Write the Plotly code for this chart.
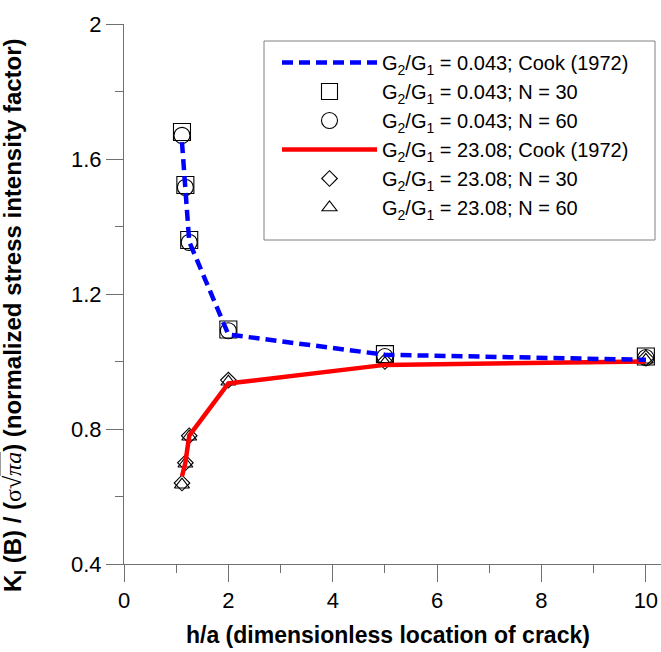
import plotly.graph_objects as go

# h/a locations
ha = [1.111, 1.176, 1.25, 2, 5, 10]

# Cook (1972) analytical curves
cook_soft = [1.65, 1.515, 1.355, 1.08, 1.02, 1.005]   # G2/G1 = 0.043
cook_stiff = [0.66, 0.70, 0.78, 0.935, 0.99, 1.0]     # G2/G1 = 23.08

# numerical results
soft_n30 = [1.68, 1.523, 1.36, 1.095, 1.022, 1.015]
soft_n60 = [1.67, 1.516, 1.353, 1.091, 1.015, 1.012]
stiff_n30 = [0.64, 0.70, 0.78, 0.945, 1.0, 1.01]
stiff_n60 = [0.635, 0.697, 0.777, 0.94, 0.995, 1.005]

names = [
    "G<sub>2</sub>/G<sub>1</sub> = 0.043; Cook (1972)",
    "G<sub>2</sub>/G<sub>1</sub> = 0.043; N = 30",
    "G<sub>2</sub>/G<sub>1</sub> = 0.043; N = 60",
    "G<sub>2</sub>/G<sub>1</sub> = 23.08; Cook (1972)",
    "G<sub>2</sub>/G<sub>1</sub> = 23.08; N = 30",
    "G<sub>2</sub>/G<sub>1</sub> = 23.08; N = 60",
]

x_ticks = [0, 2, 4, 6, 8, 10]
y_ticks = [0.4, 0.8, 1.2, 1.6, 2]
y_ticktext = ["0.4", "0.8", "1.2", "1.6", "2"]

FONT = "Liberation Sans, Arial, sans-serif"
AX = "#707070"

fig = go.Figure()

def mk(y, name, symbol, size, rank):
    fig.add_trace(go.Scatter(
        x=ha, y=y, name=name, mode="markers", legendrank=rank,
        marker=dict(symbol=symbol, size=size, color="black",
                    line=dict(color="black", width=1.1)),
    ))

mk(soft_n30, names[1], "square-open", 17, 2)
mk(soft_n60, names[2], "circle-open", 16, 3)
mk(stiff_n30, names[4], "diamond-open", 12, 5)
mk(stiff_n60, names[5], "triangle-up-open", 13, 6)

fig.add_trace(go.Scatter(
    x=ha, y=cook_stiff, name=names[3], mode="lines", legendrank=4,
    line=dict(color="#ff0000", width=4.5),
))
fig.add_trace(go.Scatter(
    x=ha, y=cook_soft, name=names[0], mode="lines", legendrank=1,
    line=dict(color="#0000ff", width=4.5, dash="11px,6px"),
))

L, T, B, R = 124, 24, 88, 0
PW, PH = 661 - L - R, 652 - T - B

def px(xp):
    return (xp - L) / PW

def py(yp):
    return (652 - B - yp) / PH

fig.update_layout(
    width=661, height=652,
    margin=dict(l=L, r=R, t=T, b=B),
    plot_bgcolor="white", paper_bgcolor="white",
    font=dict(family=FONT, color="black"),
    showlegend=True,
    legend=dict(
        x=px(277), y=py(43), xanchor="left", yanchor="top",
        bgcolor="rgba(0,0,0,0)", borderwidth=0,
        font=dict(size=20, family=FONT, color="black"),
        itemwidth=95, tracegroupgap=0,
    ),
    shapes=[
        dict(type="rect", xref="paper", yref="paper",
             x0=px(264), x1=px(655), y0=py(240), y1=py(41),
             line=dict(color="#808080", width=1), fillcolor="white", layer="below"),
    ],
    xaxis=dict(
        range=[0, 10.29], showline=True, linecolor=AX, linewidth=1,
        showgrid=False, zeroline=False,
        tickvals=x_ticks, ticks="outside", ticklen=17, tickcolor=AX, tickwidth=1,
        tickfont=dict(size=22, family=FONT, color="black"),
        minor=dict(dtick=1, ticks="outside", ticklen=8, tickcolor=AX, showgrid=False),
    ),
    yaxis=dict(
        range=[0.4, 2.0], showline=True, linecolor=AX, linewidth=1,
        showgrid=False, zeroline=False,
        tickvals=y_ticks, ticktext=y_ticktext, ticks="outside", ticklen=17,
        tickcolor=AX, tickwidth=1,
        tickfont=dict(size=22, family=FONT, color="black"),
        minor=dict(dtick=0.2, tick0=0.4, ticks="outside", ticklen=8, tickcolor=AX, showgrid=False),
    ),
    annotations=[
        dict(
            text="<b>h/a (dimensionless location of crack)</b>",
            xref="paper", yref="paper", x=px(388), y=py(635),
            xanchor="center", yanchor="middle", showarrow=False,
            font=dict(size=23, family=FONT, color="black"),
        ),
        dict(
            text=("<b>K<sub>I</sub> (B) / (</b>"
                  "<span style='font-family:Liberation Serif'>σ√"
                  "<span style='text-decoration:overline'><i>πa</i></span></span>"
                  "<b>) (normalized stress intensity factor)</b>"),
            xref="paper", yref="paper", x=px(14), y=py(315),
            xanchor="center", yanchor="middle", showarrow=False, textangle=-90,
            font=dict(size=24, family=FONT, color="black"),
        ),
    ],
)

fig.write_html("out.html")
